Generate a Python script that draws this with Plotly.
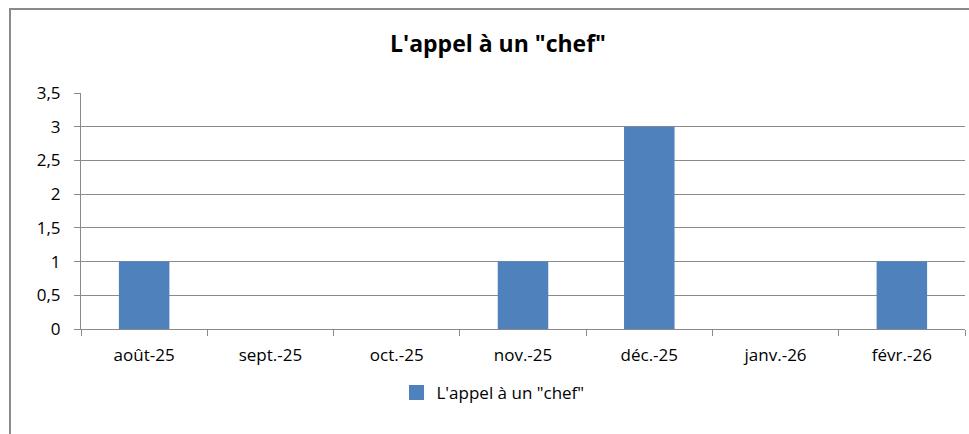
import plotly.graph_objects as go

# Monthly counts
months = ["août-25", "sept.-25", "oct.-25", "nov.-25", "déc.-25", "janv.-26", "févr.-26"]
counts = [1, 0, 0, 1, 3, 0, 1]
series_name = "L'appel à un \"chef\""
y_ticks = [0, 0.5, 1, 1.5, 2, 2.5, 3, 3.5]
y_tick_text = ["0", "0,5", "1", "1,5", "2", "2,5", "3", "3,5"]

W, H = 969, 434
L, R, T, B = 81, 4, 93, 105
grey = "#8a8a8a"
bar_color = "#4f81bd"
font = "Open Sans, DejaVu Sans, sans-serif"

fig = go.Figure()
fig.add_trace(go.Bar(
    x=months, y=counts, name=series_name,
    marker=dict(color=bar_color, line=dict(width=0)),
    showlegend=False,
))
# legend entry with a larger square swatch
fig.add_trace(go.Scatter(
    x=[None], y=[None], mode="markers", name=series_name,
    marker=dict(symbol="square", size=15, color=bar_color),
    showlegend=True,
))

pw = W - L - R
ph = H - T - B

fig.update_layout(
    width=W, height=H,
    margin=dict(l=L, r=R, t=T, b=B),
    paper_bgcolor="white", plot_bgcolor="white",
    bargap=0.6,
    showlegend=True,
    title=dict(
        text="<b>" + series_name + "</b>",
        x=498 / W, xanchor="center",
        y=1 - 44 / H, yanchor="middle",
        font=dict(family=font, size=23, color="black"),
    ),
    legend=dict(
        orientation="h",
        x=(493 - L) / pw, xanchor="center",
        y=(T + ph - 393) / ph, yanchor="middle",
        font=dict(family=font, size=17, color="black"),
        itemwidth=30,
    ),
    xaxis=dict(
        showgrid=False, showline=True, linecolor=grey, linewidth=1,
        ticks="outside", ticklen=6, tickcolor=grey,
        tickson="boundaries",
        ticklabelstandoff=11,
        tickfont=dict(family=font, size=17, color="black"),
        fixedrange=True,
    ),
    yaxis=dict(
        range=[0, 3.5],
        tickvals=y_ticks, ticktext=y_tick_text,
        showgrid=True, gridcolor=grey, gridwidth=1,
        showline=True, linecolor=grey, linewidth=1,
        ticks="outside", ticklen=6, tickcolor=grey,
        ticklabelstandoff=10,
        zeroline=False,
        tickfont=dict(family=font, size=17, color="black"),
        fixedrange=True,
    ),
    shapes=[dict(
        type="rect", xref="paper", yref="paper",
        x0=(10 - L) / pw, x1=(W + 20 - L) / pw,
        y0=(T + ph - (H + 20)) / ph, y1=(T + ph - 9) / ph,
        line=dict(color=grey, width=2), fillcolor="rgba(0,0,0,0)",
        layer="above",
    )],
)

fig.write_html("out.html")
